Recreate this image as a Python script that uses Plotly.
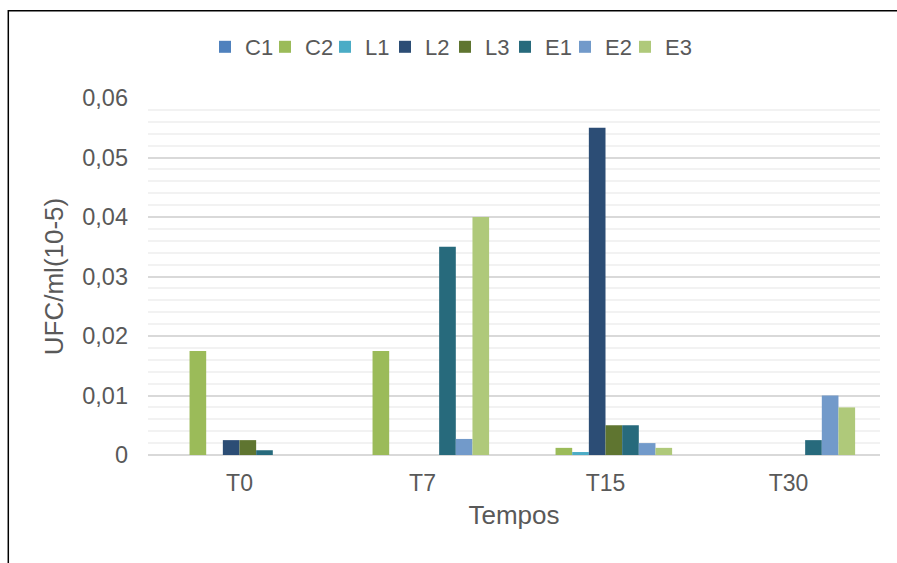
import plotly.graph_objects as go

# Sampling times and series
categories = ["T0", "T7", "T15", "T30"]
series_names = ["C1", "C2", "L1", "L2", "L3", "E1", "E2", "E3"]
C1 = [0, 0, 0, 0]
C2 = [0.0175, 0.0175, 0.0012, 0]
L1 = [0, 0, 0.0005, 0]
L2 = [0.0025, 0, 0.055, 0]
L3 = [0.0025, 0, 0.005, 0]
E1 = [0.0008, 0.035, 0.005, 0.0025]
E2 = [0, 0.0027, 0.002, 0.01]
E3 = [0, 0.04, 0.0012, 0.008]
series_values = [C1, C2, L1, L2, L3, E1, E2, E3]
colors = ["#4F81BD", "#9BBB59", "#4BACC6", "#2C4D75",
          "#5F7530", "#276A7C", "#729ACA", "#AFC97A"]

y_tick_vals = [0, 0.01, 0.02, 0.03, 0.04, 0.05, 0.06]
y_tick_text = ["0", "0,01", "0,02", "0,03", "0,04", "0,05", "0,06"]

FONT = "Liberation Sans, Arial, sans-serif"
TXT = "#595959"

fig = go.Figure()
for name, vals, col in zip(series_names, series_values, colors):
    fig.add_trace(go.Bar(x=categories, y=vals, name=name,
                         marker=dict(color=col, line=dict(width=0))))

# Blank trailing legend entry: gives the last fixed-width entry room for its text
fig.add_trace(go.Scatter(x=[None], y=[None], mode="markers", name=" ",
                         marker=dict(color="rgba(0,0,0,0)"), hoverinfo="skip"))

# Plot area geometry (pixels)
W, H = 897, 563
L, R, T, B = 148, 17, 98, 108
pw, ph = W - L - R, H - T - B

def px_x(p):
    return (p - L) / pw

def px_y(p):
    return (H - B - p) / ph

fig.update_layout(
    width=W, height=H,
    margin=dict(l=L, r=R, t=T, b=B, autoexpand=False),
    paper_bgcolor="white", plot_bgcolor="white",
    barmode="group", bargap=0.272, bargroupgap=0,
    font=dict(family=FONT, color=TXT),
    legend=dict(orientation="h", x=px_x(205), xanchor="left",
                y=px_y(47), yanchor="middle",
                font=dict(size=22, color=TXT, family=FONT),
                entrywidth=15, itemwidth=30,
                bgcolor="rgba(0,0,0,0)"),
    xaxis=dict(showline=False, showgrid=False, ticks="",
               tickfont=dict(size=23, color=TXT, family=FONT),
               ticklabelstandoff=12,
               title=dict(text="Tempos", font=dict(size=26, color=TXT, family=FONT),
                          standoff=10)),
    yaxis=dict(range=[0, 0.06], tickvals=y_tick_vals, ticktext=y_tick_text,
               showline=False, ticks="", zeroline=True, zerolinecolor="#D9D9D9",
               zerolinewidth=1.5,
               showgrid=True, gridcolor="#D9D9D9", gridwidth=1.5,
               minor=dict(dtick=0.002, showgrid=True, gridcolor="#F2F2F2", gridwidth=1.5),
               tickfont=dict(size=23.5, color=TXT, family=FONT),
               ticklabelstandoff=19,
               title=dict(text="UFC/ml(10-5)", font=dict(size=26, color=TXT, family=FONT),
                          standoff=11)),
    shapes=[dict(type="path", xref="paper", yref="paper",
                 path=f"M {px_x(8.3)},{px_y(580)} L {px_x(8.3)},{px_y(10.7)} L {px_x(910)},{px_y(10.7)}",
                 line=dict(color="black", width=1.5))],
)

fig.write_html("out.html")
